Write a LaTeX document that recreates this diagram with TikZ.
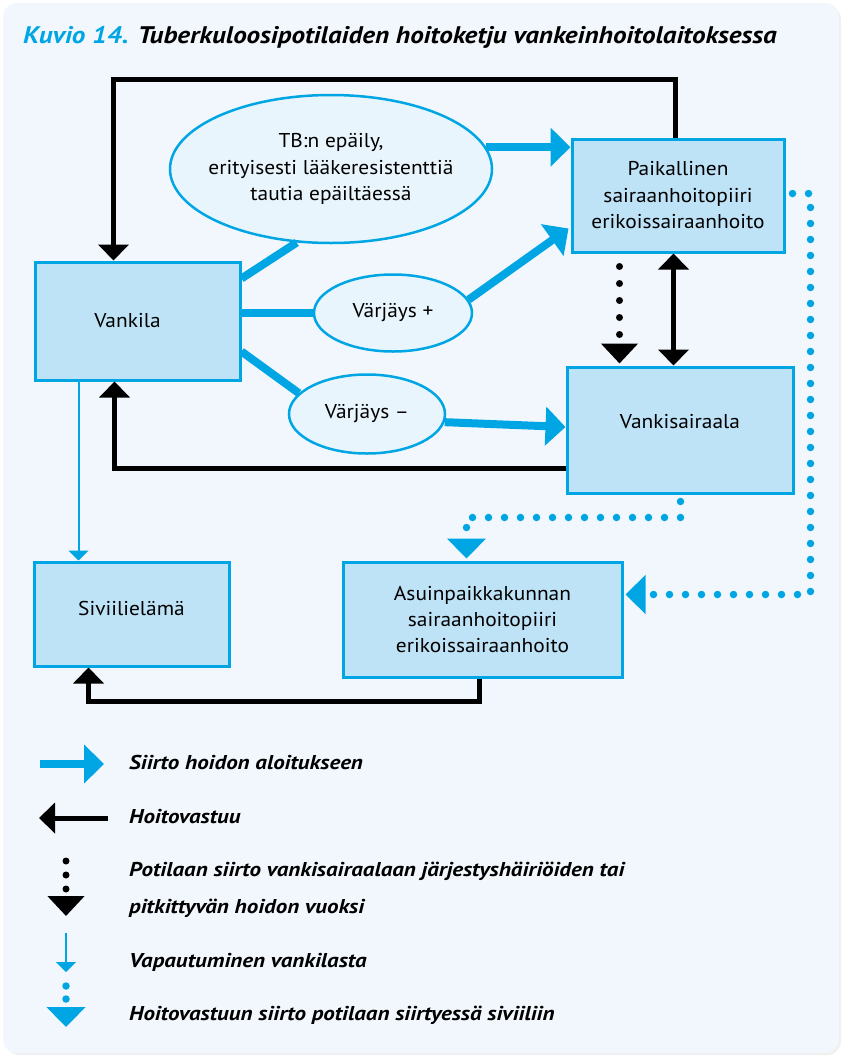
\documentclass[tikz,border=0pt]{standalone}
\usepackage{fontspec}
\setmainfont{PT Sans}
\newfontfamily\boxfam[FakeStretch=1.07]{PT Sans}
\newfontfamily\legfam[FakeStretch=1.15]{PT Sans}
\newfontfamily\titlefam[FakeStretch=1.13]{PT Sans}
\usetikzlibrary{arrows.meta,calc,shapes.geometric}

\definecolor{panel}{HTML}{F2F7FD}
\definecolor{cyanline}{HTML}{00A6E4}
\definecolor{boxfill}{HTML}{BEE2F6}
\definecolor{ovalfill}{HTML}{E9F5FC}

\newcommand{\boxfont}{\boxfam\fontsize{20pt}{26.5pt}\selectfont}
\newcommand{\legfont}{\legfam\bfseries\itshape\fontsize{20pt}{24pt}\selectfont}

\begin{document}
\begin{tikzpicture}[x=1pt,y=-1pt,
  box/.style={draw=cyanline, line width=3pt, fill=boxfill, inner sep=0pt,
    align=center, font=\boxfont},
  oval/.style={ellipse, draw=cyanline, line width=2.5pt, fill=ovalfill,
    inner sep=0pt, align=center, font=\boxfont},
  flowline/.style={draw=cyanline, line width=8pt},
  flow/.style={flowline, -{Triangle[width=38pt,length=20pt]}},
  duty/.style={draw=black, line width=5pt, -{Triangle[width=30pt,length=16pt]}},
  dutyboth/.style={draw=black, line width=5pt,
    {Triangle[width=30pt,length=16pt]}-{Triangle[width=30pt,length=16pt]}},
  blackdots/.style={draw=black, line width=7pt, line cap=round,
    dash pattern=on 0pt off 17pt, -{Triangle[width=36pt,length=20pt]}},
  bluedots/.style={draw=cyanline, line width=7.5pt, line cap=round,
    dash pattern=on 0pt off 16pt, -{Triangle[width=38pt,length=20pt]}},
  release/.style={draw=cyanline, line width=2pt,
    -{Triangle[width=20pt,length=10pt]}},
  legtext/.style={anchor=base west, inner sep=0pt, font=\legfont}
]
\useasboundingbox (0,0) rectangle (843,1058);

% panel
\fill[white] (0,0) rectangle (843,1058);
\fill[black!6, rounded corners=14pt] (5,5) rectangle (841,1055);
\fill[panel, rounded corners=14pt] (3,3) rectangle (839,1053);

% title
\node[anchor=base west, inner sep=0pt,
  font=\titlefam\bfseries\itshape\fontsize{24pt}{28pt}\selectfont] (title) at (23,43)
  {\textcolor{cyanline}{Kuvio 14.} Tuberkuloosipotilaiden hoitoketju vankeinhoitolaitoksessa};

% boxes
\node[box, minimum width=205pt, minimum height=118pt] (vk) at (137.5,321)
  {Vankila\hspace*{20pt}};
\node[box, minimum width=212pt, minimum height=113pt] (pk) at (678,195.5)
  {Paikallinen\\sairaanhoitopiiri\\erikoissairaanhoito};
\node[box, minimum width=226pt, minimum height=126pt, text depth=18pt] (vs) at (680,430)
  {Vankisairaala};
\node[box, minimum width=195pt, minimum height=104pt, text depth=12pt] (sv) at (131.5,614)
  {Siviilielämä};
\node[box, minimum width=279pt, minimum height=115pt] (as) at (482.5,619.5)
  {Asuinpaikkakunnan\\sairaanhoitopiiri\\erikoissairaanhoito};

% ovals
\node[oval, minimum width=322pt, minimum height=148pt, inner xsep=-25pt] (tb) at (331,169)
  {TB:n epäily,\\erityisesti lääkeresistenttiä\\tautia epäiltäessä};
\node[oval, minimum width=158pt, minimum height=77pt] (vp) at (393,313) {Värjäys +};
\node[oval, minimum width=156pt, minimum height=79pt] (vm) at (367,414) {Värjäys –};

% transfers to treatment
\draw[flowline] ($(vk.north east)+(0,18)$) -- (tb.245);
\draw[flow] (tb.8) -- (tb.8 -| pk.west);
\draw[flowline] (vk.east |- vp.west) -- (vp.west);
\draw[flow] (vp.10) -- ($(pk.south west)+(-2,-25)$);
\draw[flowline] ($(vk.south east)+(0,-30)$) -- (vm.163);
\draw[flow] (vm.-6) -- ($(vs.west)+(0,-3)$);

% responsibility
\draw[duty] ($(pk.north west)+(105,0)$) -- ++(0,-58) -| ($(vk.north west)+(80,0)$);
\draw[duty] ($(vs.south west)+(0,-26)$) -| ($(vk.south west)+(81,0)$);
\draw[duty] ($(as.south west)+(138,0)$) -- ++(0,23) -| ($(sv.south west)+(56,0)$);
\draw[dutyboth] ($(pk.south west)+(103,0)$) -- ($(vs.north west)+(108,0)$);

% transfer to prison hospital
\draw[blackdots] ($(pk.south west)+(49,13)$) -- ($(vs.north west)+(54,-2)$);

% release from prison
\draw[release] ($(vk.south west)+(45,0)$) -- ($(sv.north west)+(46,0)$);

% transfer of responsibility to civilian care
\draw[bluedots] ($(vs.south west)+(115,7)$) |- ($(as.north west)+(125,-43)$)
  -- ($(as.north west)+(125,-2)$);
\draw[bluedots] ($(pk.east)+(7,-2)$) -- ++(18,0) |- ($(as.east)+(2,-25)$);

% legend
\coordinate (l1a) at (40,764);  \coordinate (l1b) at (104,764);
\coordinate (l2a) at (108,818); \coordinate (l2b) at (39,818);
\coordinate (l3a) at (66,861);  \coordinate (l3b) at (66,916);
\coordinate (l4a) at (66,933);  \coordinate (l4b) at (66,972);
\coordinate (l5a) at (66,986);  \coordinate (l5b) at (66,1027);

\draw[flow] (l1a) -- (l1b);
\draw[duty] (l2a) -- (l2b);
\draw[blackdots, dash pattern=on 0pt off 14pt] (l3a) -- (l3b);
\draw[release] (l4a) -- (l4b);
\draw[bluedots, dash pattern=on 0pt off 13pt] (l5a) -- (l5b);

\node[legtext] (t1) at (129,769) {Siirto hoidon aloitukseen};
\node[legtext] (t2) at (129,823) {Hoitovastuu};
\node[legtext] (t3) at (129,876) {Potilaan siirto vankisairaalaan järjestyshäiriöiden tai};
\node[legtext] (t3b) at (129,913) {pitkittyvän hoidon vuoksi};
\node[legtext] (t4) at (129,967) {Vapautuminen vankilasta};
\node[legtext] (t5) at (129,1020) {Hoitovastuun siirto potilaan siirtyessä siviiliin};
\end{tikzpicture}
\end{document}
